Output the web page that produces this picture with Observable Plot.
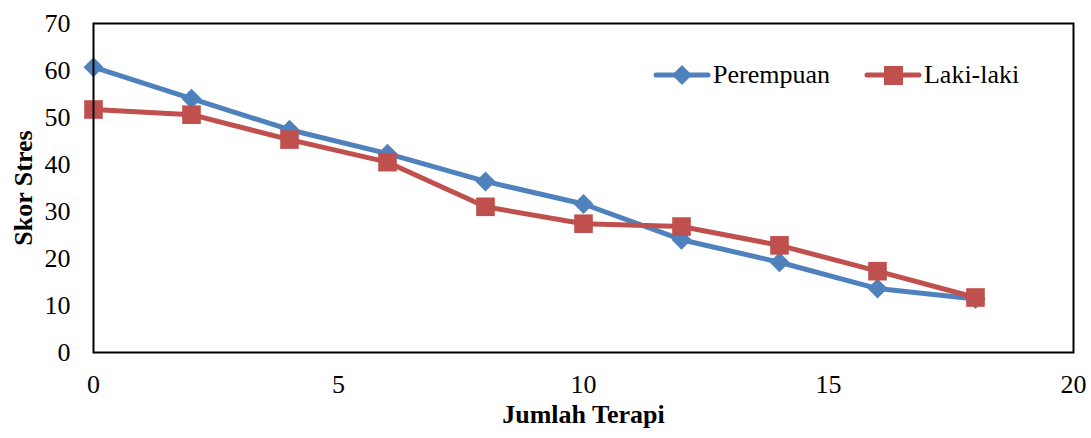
<!DOCTYPE html>
<html>
<head>
<meta charset="utf-8">
<script src="https://cdn.jsdelivr.net/npm/d3@7"></script>
<script src="https://cdn.jsdelivr.net/npm/@observablehq/plot@0.6"></script>
<style>
  html, body { margin: 0; padding: 0; background: #fff; }
  #wrap { position: relative; width: 1091px; height: 438px; font-family: "Liberation Serif", "Times New Roman", serif; }
  #legend { position: absolute; left: 653px; top: 57px; display: flex; align-items: center; font-size: 26px; color: #000; }
  #legend .item { display: flex; align-items: center; margin-right: 34px; }
  #legend svg { margin-right: 2px; }
</style>
</head>
<body>
<div id="wrap"></div>
<script>
const jumlahTerapi = [0, 2, 4, 6, 8, 10, 12, 14, 16, 18];
const perempuan = [60.7, 54.0, 47.4, 42.3, 36.4, 31.6, 24.0, 19.2, 13.6, 11.4];
const lakiLaki  = [51.7, 50.6, 45.3, 40.5, 31.0, 27.4, 26.8, 22.8, 17.3, 11.7];
const seriesNames = ["Perempuan", "Laki-laki"];
const seriesColors = ["#4F81BD", "#C0504D"];
const xTicks = [0, 5, 10, 15, 20];
const yTicks = [0, 10, 20, 30, 40, 50, 60, 70];

const dataP = jumlahTerapi.map((x, i) => ({x, y: perempuan[i]}));
const dataL = jumlahTerapi.map((x, i) => ({x, y: lakiLaki[i]}));

const chart = Plot.plot({
  width: 1091,
  height: 438,
  marginLeft: 93,
  marginRight: 18,
  marginTop: 23,
  marginBottom: 86,
  style: 'font-family: "Liberation Serif", "Times New Roman", serif; font-size: 26px; color: #000; background: #fff;',
  x: {domain: [0, 20]},
  y: {domain: [0, 70]},
  marks: [
    Plot.axisX({ticks: xTicks, tickSize: 0, tickPadding: 22, tickFormat: d => String(d), fontSize: 26,
      label: null}),
    Plot.axisY({ticks: yTicks, tickSize: 0, tickPadding: 23, tickFormat: d => String(d), fontSize: 26,
      label: null}),
    Plot.line(dataP, {x: "x", y: "y", stroke: seriesColors[0], strokeWidth: 5}),
    Plot.dot(dataP, {x: "x", y: "y", symbol: "diamond2", r: 9, fill: seriesColors[0], stroke: "none"}),
    Plot.line(dataL, {x: "x", y: "y", stroke: seriesColors[1], strokeWidth: 5}),
    Plot.dot(dataL, {x: "x", y: "y", symbol: "square", r: 10.5, fill: seriesColors[1], stroke: "none"}),
    Plot.frame({stroke: "#000", strokeWidth: 2}),
    Plot.text(["Jumlah Terapi"], {frameAnchor: "bottom", dy: 70, fontSize: 26, fontWeight: "bold", fill: "#000"}),
    Plot.text(["Skor Stres"], {frameAnchor: "left", textAnchor: "middle", lineAnchor: "middle", dx: -70, rotate: -90, fontSize: 26, fontWeight: "bold", fill: "#000"})
  ]
});

const wrap = document.getElementById("wrap");
wrap.appendChild(chart);

const legend = document.createElement("div");
legend.id = "legend";
const symbols = [
  c => `<line x1="3" y1="18" x2="55" y2="18" stroke="${c}" stroke-width="5" stroke-linecap="round"/><path d="M29 8 L39 18 L29 28 L19 18 Z" fill="${c}"/>`,
  c => `<line x1="3" y1="18" x2="55" y2="18" stroke="${c}" stroke-width="5" stroke-linecap="round"/><rect x="20" y="9" width="19" height="19" fill="${c}"/>`
];
seriesNames.forEach((name, i) => {
  const item = document.createElement("div");
  item.className = "item";
  item.innerHTML = `<svg width="58" height="36">${symbols[i](seriesColors[i])}</svg><span>${name}</span>`;
  legend.appendChild(item);
});
wrap.appendChild(legend);
</script>
</body>
</html>
